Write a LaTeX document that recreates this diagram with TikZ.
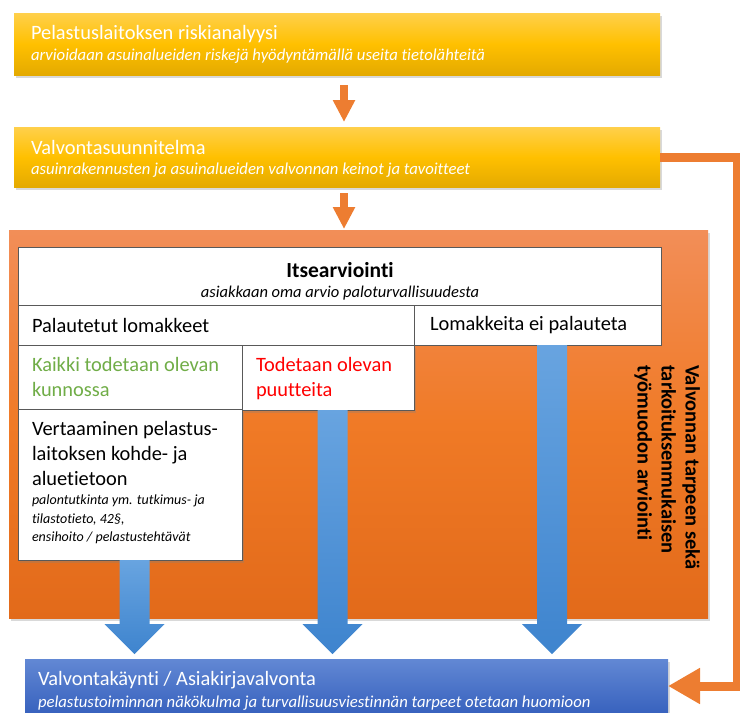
\documentclass[tikz,border=0pt]{standalone}
\usepackage{fontspec}
\setmainfont{Carlito}[Ligatures=NoCommon]
\usetikzlibrary{arrows.meta,shadows,calc}
\definecolor{ytop}{RGB}{255,208,75}
\definecolor{ymid}{RGB}{255,192,0}
\definecolor{ybot}{RGB}{228,170,0}
\definecolor{otop}{RGB}{242,142,88}
\definecolor{omid}{RGB}{240,122,38}
\definecolor{obot}{RGB}{226,106,26}
\definecolor{arroworange}{RGB}{237,125,49}
\definecolor{batop}{RGB}{104,164,224}
\definecolor{babot}{RGB}{62,132,206}
\definecolor{btop}{RGB}{98,136,212}
\definecolor{bbot}{RGB}{56,98,190}
\definecolor{okgreen}{RGB}{112,173,71}
\definecolor{badred}{RGB}{255,0,0}
\begin{document}
\begin{tikzpicture}[x=1pt,y=-1pt,
  every node/.style={inner sep=0pt, outer sep=0pt},
  myshadow/.style={drop shadow={opacity=0.3, shadow xshift=1.5pt, shadow yshift=-3pt}},
  ybox/.style={rectangle, anchor=north west, minimum width=646pt, top color=ytop, bottom color=ybot, middle color=ymid, myshadow},
  obox/.style={rectangle, anchor=north west, top color=otop, bottom color=obot, middle color=omid, myshadow},
  bbox/.style={rectangle, anchor=north west, top color=btop, bottom color=bbot, myshadow},
  wbox/.style={rectangle, anchor=north west, draw=black!65, line width=0.7pt, fill=white},
  oarrow/.style={draw=arroworange, line width=8pt, -{Triangle[width=21pt,length=22pt]}},
  fbarrow/.style={draw=arroworange, line width=9pt, line join=miter, -{Triangle[width=34pt,length=32pt]}},
  barrowfill/.style={top color=batop, bottom color=babot},
  wtitle/.style={anchor=west, text=white, font=\fontsize{20.4}{24}\selectfont},
  wsub/.style={anchor=west, text=white, font=\itshape\fontsize{16.7}{20}\selectfont},
  btext/.style={anchor=west, font=\fontsize{20.4}{24}\selectfont},
  blines/.style={anchor=north west, align=left, font=\fontsize{20.4}{25}\selectfont},
  slines/.style={anchor=north west, align=left, font=\itshape\fontsize{14}{18.5}\selectfont}
]
\useasboundingbox (0,0) rectangle (740,713);

% yellow boxes
\node[ybox, minimum height=62pt] (risk) at (14,13) {};
\node[wtitle] (risktitle) at (31,34) {Pelastuslaitoksen riskianalyysi};
\node[wsub] (risksub) at (31,56) {arvioidaan asuinalueiden riskejä hyödyntämällä useita tietolähteitä};

\node[ybox, minimum height=60pt] (plan) at (14,127) {};
\node[wtitle] (plantitle) at (31,147) {Valvontasuunnitelma};
\node[wsub] (plansub) at (31,170) {asuinrakennusten ja asuinalueiden valvonnan keinot ja tavoitteet};

% blue target box
\node[bbox, minimum width=643pt, minimum height=54pt] (blue) at (25,659) {};
\node[wtitle] (bluetitle) at (38,680) {Valvontakäynti / Asiakirjavalvonta};
\node[wsub] (bluesub) at (38,703) {pelastustoiminnan näkökulma ja turvallisuusviestinnän tarpeet otetaan huomioon};

% orange arrows
\draw[oarrow] ([xshift=7pt,yshift=-10pt]risk.south) -- ([xshift=7pt,yshift=5pt]plan.north);

% orange evaluation box
\node[obox, minimum width=699pt, minimum height=388pt] (eval) at (9,230) {};
\draw[oarrow] ([xshift=7pt,yshift=-6pt]plan.south) -- ([xshift=7pt,yshift=1pt]plan.south |- eval.north);

% feedback line
\draw[fbarrow] (plan.east) -- ++(77,0) |- (blue.east);

% white boxes
\node[wbox, minimum width=643pt, minimum height=58pt] (itse) at (18,247) {};
\node[wbox, minimum width=396pt, minimum height=40pt] (palau) at (18,305) {};
\node[wbox, minimum width=247pt, minimum height=40pt] (eipal) at (414,305) {};
\node[wbox, minimum width=224pt, minimum height=64pt] (kaikki) at (18,345) {};
\node[wbox, minimum width=172pt, minimum height=65pt, myshadow] (puut) at (242,345) {};
\node[wbox, minimum width=224pt, minimum height=151pt, myshadow] (vert) at (18,409) {};

\node[font=\bfseries\fontsize{21.5}{24}\selectfont] (itsetitle) at (340,270) {Itsearviointi};
\node[font=\itshape\fontsize{16.5}{20}\selectfont] (itsesub) at (340,293) {asiakkaan oma arvio paloturvallisuudesta};
\node[btext] (palautext) at (32,325) {Palautetut lomakkeet};
\node[btext] (eipaltext) at (430,325) {Lomakkeita ei palauteta};
\node[blines, text=okgreen] (kaikkitext) at (32,357) {Kaikki todetaan olevan\\kunnossa};
\node[blines, text=badred] (puuttext) at (256,357) {Todetaan olevan\\puutteita};
\node[blines] (verttext) at (32,421) {Vertaaminen pelastus-\\laitoksen kohde- ja\\aluetietoon};
\node[slines] (vertsmall) at (32,495) {palontutkinta ym. tutkimus- ja\\tilastotieto, 42§,\\ensihoito / pelastustehtävät};

% vertical text
\node[rotate=-90, anchor=north west, align=left, font=\bfseries\fontsize{20.5}{24}\selectfont] (vtext) at (700,365) {Valvonnan tarpeen sekä\\tarkoituksenmukaisen\\työmuodon arviointi};

% blue arrows (start, tip)
\coordinate (s1) at ([xshift=4.5pt]vert.south);
\coordinate (t1) at ([xshift=4.5pt,yshift=5pt]vert.south |- blue.north);
\coordinate (s2) at ([xshift=4.5pt]puut.south);
\coordinate (t2) at ([xshift=4.5pt,yshift=5pt]puut.south |- blue.north);
\coordinate (s3) at ([xshift=14.5pt]eipal.south);
\coordinate (t3) at ([xshift=14.5pt,yshift=5pt]eipal.south |- blue.north);
\foreach \i in {1,2,3}{
  \shade[barrowfill] ($(s\i)+(-15,0)$) -- ($(t\i)+(-15,-30)$) -- ($(t\i)+(-30,-30)$) -- (t\i)
     -- ($(t\i)+(30,-30)$) -- ($(t\i)+(15,-30)$) -- ($(s\i)+(15,0)$) -- cycle;
}
\end{tikzpicture}
\end{document}
